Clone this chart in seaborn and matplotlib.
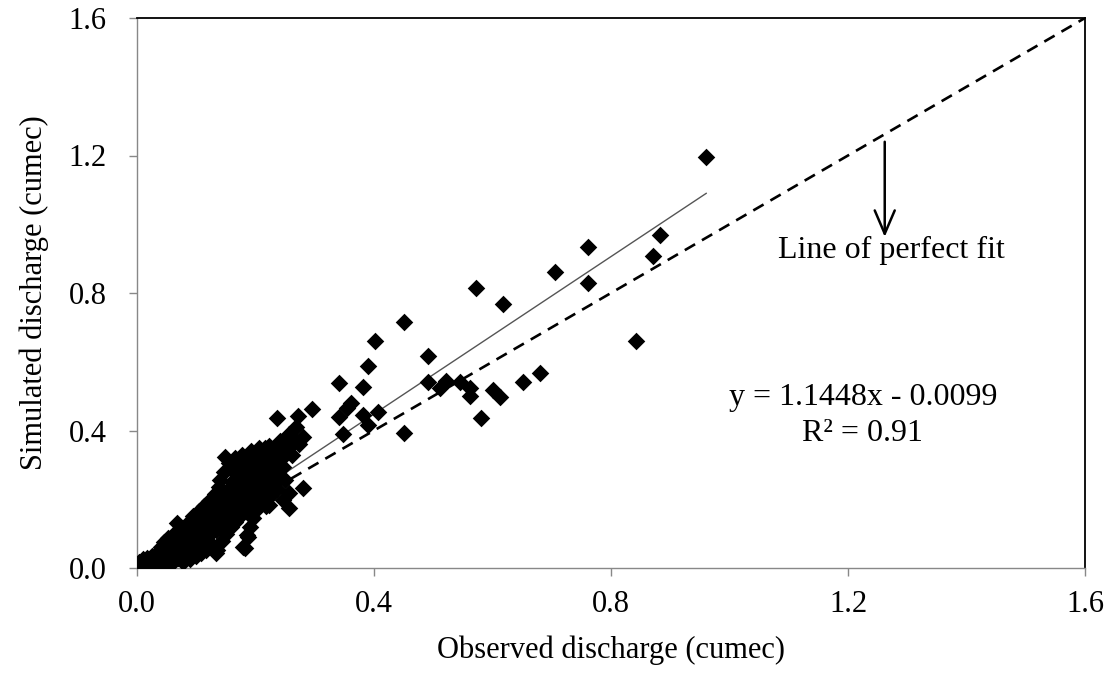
import numpy as np
import pandas as pd
import matplotlib
matplotlib.use("Agg")
import matplotlib.pyplot as plt
import seaborn as sns

# ---- data ----
cluster_obs = [0.004, 0.008, 0.010, 0.014, 0.017, 0.020, 0.022, 0.025, 0.028, 0.030,
               0.033, 0.035, 0.037, 0.040, 0.042, 0.044, 0.046, 0.048, 0.050, 0.052, 0.054, 0.056, 0.058, 0.060,
               0.062, 0.064, 0.066, 0.068, 0.070, 0.072, 0.074, 0.076, 0.078, 0.080, 0.082, 0.084, 0.086, 0.088, 0.090,
               0.092, 0.094, 0.095, 0.097, 0.099, 0.100, 0.102, 0.104, 0.106, 0.108, 0.110, 0.112, 0.113, 0.115, 0.117, 0.118, 0.120,
               0.122, 0.124, 0.126, 0.127, 0.129, 0.131, 0.133, 0.134, 0.136, 0.138, 0.139, 0.141, 0.143, 0.144, 0.146, 0.147, 0.149, 0.150,
               0.152, 0.153, 0.155, 0.157, 0.158, 0.160, 0.161, 0.163, 0.165, 0.166, 0.168, 0.169, 0.171, 0.172, 0.174, 0.175, 0.177, 0.178, 0.180,
               0.181, 0.183, 0.184, 0.186, 0.187, 0.189, 0.190, 0.192, 0.193, 0.195, 0.196, 0.198, 0.199, 0.201, 0.203, 0.204, 0.206, 0.208, 0.209,
               0.211, 0.213, 0.215, 0.217, 0.219, 0.221, 0.223, 0.225, 0.228, 0.230, 0.233, 0.236, 0.239, 0.242, 0.245, 0.249, 0.253, 0.257, 0.262, 0.266]
cluster_sim = [0.018, 0.010, 0.026, 0.016, 0.030, 0.010, 0.022, 0.036, 0.014, 0.028,
               0.045, 0.010, 0.024, 0.060, 0.038, 0.015, 0.075, 0.050, 0.028, 0.088, 0.012, 0.062, 0.040, 0.095,
               0.020, 0.075, 0.050, 0.105, 0.030, 0.088, 0.060, 0.115, 0.018, 0.040, 0.100, 0.072, 0.130, 0.050, 0.025,
               0.112, 0.085, 0.150, 0.060, 0.035, 0.128, 0.098, 0.165, 0.072, 0.045, 0.140, 0.110, 0.180, 0.085, 0.055, 0.155, 0.125,
               0.195, 0.098, 0.068, 0.170, 0.140, 0.215, 0.112, 0.045, 0.185, 0.155, 0.235, 0.125, 0.080, 0.205, 0.170, 0.280, 0.140, 0.100,
               0.225, 0.185, 0.305, 0.155, 0.120, 0.250, 0.205, 0.170, 0.320, 0.135, 0.270, 0.225, 0.190, 0.300, 0.150, 0.250, 0.210, 0.330, 0.175,
               0.285, 0.240, 0.200, 0.315, 0.160, 0.265, 0.225, 0.340, 0.190, 0.295, 0.250, 0.215, 0.325, 0.170, 0.275, 0.235, 0.350, 0.200, 0.300,
               0.260, 0.225, 0.330, 0.180, 0.285, 0.245, 0.355, 0.210, 0.310, 0.270, 0.340, 0.230, 0.300, 0.370, 0.320, 0.255, 0.345, 0.390, 0.330, 0.370]

outer_obs = [0.961, 0.883, 0.871, 0.762, 0.762, 0.705, 0.843, 0.617, 0.572, 0.681, 0.652, 0.613, 0.600,
             0.562, 0.562, 0.545, 0.580, 0.522, 0.511, 0.491, 0.491, 0.451, 0.451, 0.402, 0.390, 0.406,
             0.390, 0.382, 0.381, 0.341, 0.362, 0.354, 0.341, 0.347, 0.296, 0.272, 0.237, 0.268, 0.281,
             0.274, 0.254, 0.244, 0.216, 0.208, 0.149, 0.160, 0.247, 0.140, 0.238, 0.257, 0.281, 0.246,
             0.257, 0.222, 0.196, 0.185, 0.182, 0.135, 0.067, 0.179, 0.188, 0.191, 0.132, 0.116]
outer_sim = [1.197, 0.968, 0.908, 0.933, 0.830, 0.862, 0.660, 0.767, 0.815, 0.568, 0.542, 0.498, 0.518,
             0.525, 0.500, 0.542, 0.437, 0.545, 0.523, 0.617, 0.540, 0.717, 0.392, 0.660, 0.589, 0.455,
             0.416, 0.445, 0.526, 0.537, 0.479, 0.465, 0.438, 0.390, 0.462, 0.442, 0.437, 0.411, 0.380,
             0.361, 0.382, 0.353, 0.348, 0.329, 0.324, 0.290, 0.295, 0.256, 0.261, 0.217, 0.232, 0.198,
             0.174, 0.183, 0.145, 0.096, 0.057, 0.052, 0.130, 0.060, 0.091, 0.118, 0.057, 0.052]

observed = cluster_obs + outer_obs
simulated = cluster_sim + outer_sim

slope, intercept = 1.1448, -0.0099
r2 = 0.91
axis_ticks = [0.0, 0.4, 0.8, 1.2, 1.6]
tick_labels = ["0.0", "0.4", "0.8", "1.2", "1.6"]

# ---- figure ----
sns.set_theme(style="white")
plt.rcParams['font.family'] = ['Liberation Serif', 'DejaVu Serif']

fig = plt.figure(figsize=(11.11, 6.74), dpi=100)
ax = fig.add_axes([137 / 1111, 1 - 568 / 674, (1085 - 137) / 1111, (568 - 18) / 674])

df = pd.DataFrame({"Observed": observed, "Simulated": simulated})

# line of perfect fit
perfect = pd.DataFrame({"x": [0.0, 1.6], "y": [0.0, 1.6]})
ax.plot(perfect["x"], perfect["y"], color="black", lw=1.9, dashes=(4.5, 3.0), zorder=1)

# trend line over data range
tx = np.array([min(observed), max(observed)])
ax.plot(tx, slope * tx + intercept, color="#555555", lw=1.0, zorder=1)

sns.scatterplot(data=df, x="Observed", y="Simulated", marker="D", s=80,
                color="black", edgecolor="black", linewidth=0, ax=ax, zorder=3)

ax.set_xlim(0, 1.6)
ax.set_ylim(0, 1.6)
ax.set_xticks(axis_ticks)
ax.set_xticklabels(tick_labels)
ax.set_yticks(axis_ticks)
ax.set_yticklabels(tick_labels)

for side in ["top", "right"]:
    ax.spines[side].set_color("black")
    ax.spines[side].set_linewidth(1.3)
for side in ["left", "bottom"]:
    ax.spines[side].set_color("#888888")
    ax.spines[side].set_linewidth(1.0)

ax.tick_params(axis="both", which="major", direction="out", length=6, width=1,
               color="#888888", labelsize=22, labelcolor="black")
ax.tick_params(axis="x", pad=10)
ax.tick_params(axis="y", pad=16)
ax.xaxis.set_ticks_position("bottom")
ax.yaxis.set_ticks_position("left")

ax.set_xlabel("Observed discharge (cumec)", fontsize=22, labelpad=12, color="black")
ax.set_ylabel("Simulated discharge (cumec)", fontsize=22, labelpad=14, color="black")

ax.annotate("", xy=(1.262, 0.955), xytext=(1.262, 1.248),
            arrowprops=dict(arrowstyle="->,head_length=1.4,head_width=0.6", color="black", lw=1.8))
ax.text(1.273, 0.925, "Line of perfect fit", fontsize=23, ha="center", va="center", color="black")
ax.text(1.225, 0.497, f"y = {slope:.4f}x - {abs(intercept):.4f}", fontsize=23, ha="center", va="center", color="black")
ax.text(1.225, 0.390, f"R² = {r2:.2f}", fontsize=23, ha="center", va="center", color="black")

fig.savefig("out.png", dpi=100)
